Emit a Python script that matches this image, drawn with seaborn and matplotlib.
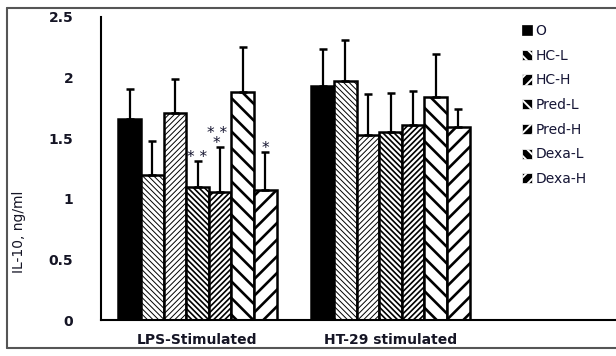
import matplotlib
matplotlib.use("Agg")
import matplotlib.pyplot as plt
from matplotlib.lines import Line2D
import seaborn as sns
import pandas as pd

groups = ["LPS-Stimulated", "HT-29 stimulated"]
treatments = ["O", "HC-L", "HC-H", "Pred-L", "Pred-H", "Dexa-L", "Dexa-H"]
lps_means = [1.66, 1.20, 1.71, 1.10, 1.06, 1.88, 1.07]
lps_upper = [1.91, 1.48, 1.99, 1.31, 1.43, 2.25, 1.39]
ht29_means = [1.93, 1.975, 1.53, 1.555, 1.61, 1.84, 1.59]
ht29_upper = [2.24, 2.31, 1.865, 1.875, 1.89, 2.195, 1.74]
y_ticks = [0, 0.5, 1, 1.5, 2, 2.5]
y_tick_labels = ["0", "0.5", "1", "1.5", "2", "2.5"]
signif_lps = ["", "", "", "* *", "* *\n*", "", "*"]

rows = []
for g, means, ups in [(groups[0], lps_means, lps_upper), (groups[1], ht29_means, ht29_upper)]:
    for t, m, u in zip(treatments, means, ups):
        rows.append({"group": g, "treatment": t, "value": m, "err": u - m})
df = pd.DataFrame(rows)

sns.set_style("white")
plt.rcParams["font.family"] = ["DejaVu Sans"]

fig = plt.figure(figsize=(6.16, 3.56), dpi=100)
ax = fig.add_axes([101 / 616, 1 - 320 / 356, 515 / 616, 303 / 356])

palette = {t: ("black" if t == "O" else "white") for t in treatments}
sns.barplot(data=df, x="group", y="value", hue="treatment", order=groups,
            hue_order=treatments, palette=palette, width=0.82, errorbar=None,
            edgecolor="black", linewidth=1.8, ax=ax, saturation=1)

hatches = {"O": "", "HC-L": "\\\\\\\\\\\\", "HC-H": "//////", "Pred-L": "\\\\\\\\\\\\",
           "Pred-H": "//////", "Dexa-L": "\\\\", "Dexa-H": "//"}
hatch_lw = {"O": 1.0, "HC-L": 0.7, "HC-H": 0.7, "Pred-L": 1.2, "Pred-H": 1.2,
            "Dexa-L": 1.9, "Dexa-H": 1.9}
legend_hatches = {"O": "", "HC-L": "\\\\\\", "HC-H": "///", "Pred-L": "\\\\\\",
                  "Pred-H": "///", "Dexa-L": "\\\\\\", "Dexa-H": "///"}

for t, cont in zip(treatments, ax.containers):
    sub = df[df.treatment == t].set_index("group")
    for g, bar in zip(groups, cont.patches):
        bar.set_hatch(hatches[t])
        if hasattr(bar, "set_hatch_linewidth"):
            bar.set_hatch_linewidth(hatch_lw[t])
        x = bar.get_x() + bar.get_width() / 2
        h = bar.get_height()
        e = sub.loc[g, "err"]
        ax.errorbar([x], [h], yerr=[[0], [e]], fmt="none", ecolor="black",
                    elinewidth=1.6, capsize=3.2, capthick=1.8, zorder=1)

# significance stars
for t, cont, s in zip(treatments, ax.containers, signif_lps):
    if not s:
        continue
    bar = cont.patches[0]
    x = bar.get_x() + bar.get_width() / 2
    top = df[(df.treatment == t) & (df.group == groups[0])]
    up = float(top["value"].iloc[0] + top["err"].iloc[0])
    dx = -2.5 if "\n" in s else 0
    ax.annotate(s, xy=(x, up), xytext=(dx, -3), textcoords="offset points",
                ha="center", va="bottom", fontsize=11, color="#151530",
                multialignment="center", linespacing=0.6)

ax.set_xlim(-0.5, -0.5 + 515 / 193)
ax.set_ylim(0, 2.5)
ax.set_yticks(y_ticks)
ax.set_yticklabels(y_tick_labels, fontweight="bold", fontsize=10, color="#151525")
ax.set_xticks([0, 1])
ax.set_xticklabels(groups, fontweight="bold", fontsize=10, color="#151525")
ax.set_xticks([-0.5, 0.5, 1.5], minor=True)
ax.tick_params(axis="x", which="major", length=0, pad=9)
ax.tick_params(axis="x", which="minor", length=4, width=1.5, direction="out", color="black")
ax.tick_params(axis="y", length=4, width=1.5, direction="out", pad=16, color="black")
ax.set_xlabel("")
ax.set_ylabel("")
for side in ["top", "right"]:
    ax.spines[side].set_visible(False)
for side in ["left", "bottom"]:
    ax.spines[side].set_color("black")
    ax.spines[side].set_linewidth(1.5)

fig.text(19 / 616, 1 - 232 / 356, "IL-10, ng/ml", rotation=90, ha="center",
         va="center", fontsize=10, color="#151525")

handles, labels = ax.get_legend_handles_labels()
leg = ax.legend(handles, labels, loc="upper left",
                bbox_to_anchor=(522 / 616, 1 - 24 / 356), bbox_transform=fig.transFigure,
                frameon=False, handlelength=0.75, handleheight=0.75, handletextpad=0.2,
                labelspacing=0.77, fontsize=10, borderpad=0, borderaxespad=0)
for t, hdl, txt in zip(treatments, leg.legend_handles, leg.get_texts()):
    hdl.set_facecolor("black")
    if t == "O":
        hdl.set_edgecolor("black")
        hdl.set_hatch("")
    else:
        hdl.set_edgecolor("white")
        hdl.set_hatch(legend_hatches[t])
        if hasattr(hdl, "set_hatch_linewidth"):
            hdl.set_hatch_linewidth(1.4)
    hdl.set_linewidth(0.5)
    txt.set_color("#151535")

# outer frame of the original image
frame_kw = dict(color="#555555", linewidth=1.5, transform=fig.transFigure)
fig.add_artist(Line2D([7 / 616, 1], [1 - 8 / 356, 1 - 8 / 356], **frame_kw))
fig.add_artist(Line2D([7 / 616, 7 / 616], [1 - 8 / 356, 1 - 348 / 356], **frame_kw))
fig.add_artist(Line2D([7 / 616, 1], [1 - 348 / 356, 1 - 348 / 356], **frame_kw))

fig.savefig("out.png", dpi=100)
